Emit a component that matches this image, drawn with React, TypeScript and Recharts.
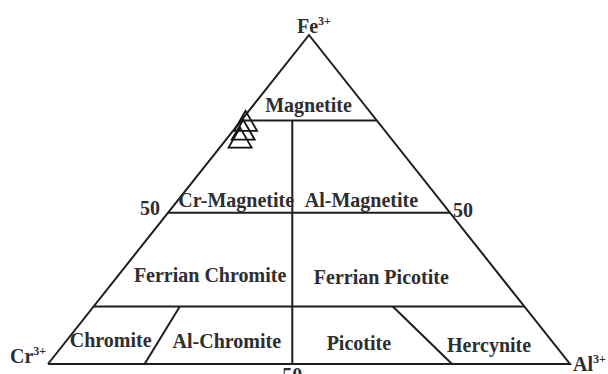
import React from "react";
import { ScatterChart, Scatter, XAxis, YAxis } from "recharts";

// ternary points are given as Fe3+ and Al3+ (Cr3+ = rest)
const vertices = [
  { name: "Cr", Fe: 0, Al: 0 },
  { name: "Al", Fe: 0, Al: 100 },
  { name: "Fe", Fe: 100, Al: 0 },
  { name: "Cr", Fe: 0, Al: 0 },
];

const magnetiteLine = [
  { Fe: 74, Al: 0 },
  { Fe: 74, Al: 26 },
];
const fiftyLine = [
  { Fe: 46, Al: 0 },
  { Fe: 46, Al: 54 },
];
const lowerLine = [
  { Fe: 17.5, Al: 0 },
  { Fe: 17.5, Al: 82.5 },
];
const crAlLine = [
  { Fe: 74, Al: 9.8 },
  { Fe: 0, Al: 46.8 },
];
const chromiteDivider = [
  { Fe: 17.5, Al: 16.5 },
  { Fe: 0, Al: 18.5 },
];
const hercyniteDivider = [
  { Fe: 17.5, Al: 57.3 },
  { Fe: 0, Al: 77.4 },
];

const samples = [
  { Fe: 72.9, Al: 1.4 },
  { Fe: 70.2, Al: 2.3 },
  { Fe: 67.8, Al: 2.9 },
];

const fieldLabels = [
  { text: "Magnetite", Fe: 76.6, Al: 11.6 },
  { text: "Cr-Magnetite", Fe: 47.7, Al: 12.2 },
  { text: "Al-Magnetite", Fe: 47.7, Al: 36.2 },
  { text: "Ferrian Chromite", Fe: 24.9, Al: 18.6 },
  { text: "Ferrian Picotite", Fe: 24.3, Al: 51.7 },
  { text: "Chromite", Fe: 5.2, Al: 9.4 },
  { text: "Al-Chromite", Fe: 4.9, Al: 31.8 },
  { text: "Picotite", Fe: 4.3, Al: 57.4 },
  { text: "Hercynite", Fe: 3.6, Al: 82.7 },
];

const tickLabels = [
  { text: "50", Fe: 46, Al: 0, anchor: "end", dx: -8, dy: 2 },
  { text: "50", Fe: 46, Al: 54, anchor: "start", dx: 3, dy: 4 },
  { text: "50", Fe: 0, Al: 46.8, anchor: "middle", dx: 0, dy: 18 },
];

const vertexLabels = [
  { text: "Fe", sup: "3+", Fe: 100, Al: 0, dx: -12, dy: -2 },
  { text: "Cr", sup: "3+", Fe: 0, Al: 0, dx: -38, dy: -1 },
  { text: "Al", sup: "3+", Fe: 0, Al: 100, dx: 3, dy: 7 },
];

const toXY = (p: any) => ({ ...p, x: p.Al + p.Fe / 2, y: p.Fe });

const FONT = "'Liberation Serif', 'Times New Roman', serif";
const LINE = "#1e1e1e";
const TEXT = "#2e2e2e";

const noPoint = () => <g />;

// open triangle, side ~23px, centred on its centroid
const OpenTriangle = (props: any) => {
  const { cx, cy } = props;
  const s = 23;
  const h = (s * Math.sqrt(3)) / 2;
  const d = `M${cx},${cy - (2 * h) / 3} L${cx + s / 2},${cy + h / 3} L${cx - s / 2},${cy + h / 3} Z`;
  return <path d={d} fill="none" stroke="#111" strokeWidth={1.8} strokeLinejoin="miter" />;
};

const FieldLabel = (props: any) => {
  const { cx, cy, payload } = props;
  return (
    <text x={cx} y={cy} textAnchor="middle" fontFamily={FONT} fontWeight="bold" fontSize={20} fill={TEXT}>
      {payload.text}
    </text>
  );
};

const TickLabel = (props: any) => {
  const { cx, cy, payload } = props;
  return (
    <text
      x={cx + payload.dx}
      y={cy + payload.dy}
      textAnchor={payload.anchor}
      fontFamily={FONT}
      fontWeight="bold"
      fontSize={20}
      fill={TEXT}
    >
      {payload.text}
    </text>
  );
};

const VertexLabel = (props: any) => {
  const { cx, cy, payload } = props;
  return (
    <text x={cx + payload.dx} y={cy + payload.dy} fontFamily={FONT} fontWeight="bold" fontSize={20} fill={TEXT}>
      <tspan>{payload.text}</tspan>
      <tspan dy={-8} fontSize={12}>
        {payload.sup}
      </tspan>
    </text>
  );
};

const lines = [vertices, magnetiteLine, fiftyLine, lowerLine, crAlLine, chromiteDivider, hercyniteDivider];

export default function App() {
  return (
    <div style={{ position: "absolute", left: 0, top: 0, background: "#fff" }}>
      <ScatterChart width={608} height={374} margin={{ top: 35, right: 38, bottom: 10, left: 48 }}>
        <XAxis type="number" dataKey="x" domain={[0, 100]} hide />
        <YAxis type="number" dataKey="y" domain={[0, 100]} hide />
        {lines.map((l, i) => (
          <Scatter
            key={`line-${i}`}
            data={l.map(toXY)}
            line={{ stroke: LINE, strokeWidth: 2 }}
            shape={noPoint}
            isAnimationActive={false}
            legendType="none"
          />
        ))}
        <Scatter data={samples.map(toXY)} shape={OpenTriangle} isAnimationActive={false} />
        <Scatter data={fieldLabels.map(toXY)} shape={FieldLabel} isAnimationActive={false} />
        <Scatter data={tickLabels.map(toXY)} shape={TickLabel} isAnimationActive={false} />
        <Scatter data={vertexLabels.map(toXY)} shape={VertexLabel} isAnimationActive={false} />
      </ScatterChart>
    </div>
  );
}
